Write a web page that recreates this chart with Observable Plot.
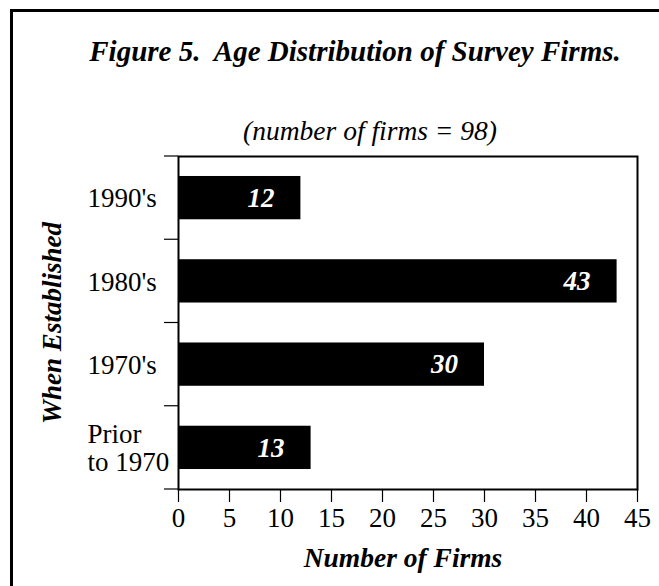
<!DOCTYPE html>
<html><head><meta charset="utf-8">
<script src="https://cdn.jsdelivr.net/npm/d3@7"></script>
<script src="https://cdn.jsdelivr.net/npm/@observablehq/plot@0.6"></script>
<style>
html,body{margin:0;padding:0;background:#fff;overflow:hidden;}
#wrap{position:relative;width:659px;height:586px;overflow:hidden;font-family:"Liberation Serif","Times New Roman",serif;color:#000;}
#border{position:absolute;left:10px;top:9px;width:700px;height:700px;border-left:3px solid #000;border-top:3px solid #000;z-index:3;pointer-events:none;}
.t{position:absolute;white-space:pre;transform:translateX(-50%);line-height:1;}
#title{left:355px;top:37px;font-size:29px;font-weight:bold;font-style:italic;}
#subtitle{left:370px;top:117px;font-size:27.5px;font-style:italic;}
#chart{position:absolute;left:0;top:100px;}
</style></head>
<body><div id="wrap"><div id="border"></div>
<div id="title" class="t">Figure 5.  Age Distribution of Survey Firms.</div>
<div id="subtitle" class="t">(number of firms = 98)</div>
<div id="chart"></div></div>
<script>
const periods = ["1990's", "1980's", "1970's", "Prior\nto 1970"];
const firms = [12, 43, 30, 13];
const xTicks = [0, 5, 10, 15, 20, 25, 30, 35, 40, 45];
const xTitle = "Number of Firms";
const yTitle = "When Established";

const data = periods.map((p, i) => ({period: p, count: firms[i]}));
const W = 659, H = 486, mL = 178, mR = 22, mT = 56, mB = 97;
const font = "Liberation Serif, Times New Roman, serif";

const chart = Plot.plot({
  width: W, height: H,
  marginLeft: mL, marginRight: mR, marginTop: mT, marginBottom: mB,
  style: {fontFamily: font, fontSize: "27px", color: "black", background: "transparent", overflow: "visible"},
  x: {domain: [0, 45], ticks: xTicks},
  y: {domain: periods, paddingInner: 0.48, paddingOuter: 0.24, round: false},
  marks: [
    Plot.barX(data, {x: "count", y: "period", fill: "black"}),
    Plot.text(data, {x: "count", y: "period", text: d => String(d.count), fill: "white",
      fontWeight: "bold", fontStyle: "italic", fontSize: 27, dx: -40, textAnchor: "middle"}),
    Plot.frame({stroke: "black", strokeWidth: 2}),
    Plot.axisX({ticks: xTicks, tickSize: 13, tickPadding: 5, strokeWidth: 1.2, label: null, fontSize: 27}),
    Plot.axisY({tickSize: 0, tickPadding: 91, textAnchor: "start", label: null, lineHeight: 1.06, fontSize: 27}),
    Plot.text([xTitle], {text: d => d, frameAnchor: "bottom", dy: 69, dx: -5,
      textAnchor: "middle", lineAnchor: "middle",
      fontWeight: "bold", fontStyle: "italic", fontSize: 27.5}),
    Plot.text([yTitle], {text: d => d, frameAnchor: "left", rotate: -90, dx: -126,
      textAnchor: "middle", lineAnchor: "middle",
      fontWeight: "bold", fontStyle: "italic", fontSize: 27})
  ]
});
document.getElementById("chart").appendChild(chart);

// band-boundary ticks on the y axis, from the band scale
const svg = chart.tagName.toLowerCase() === "svg" ? chart : chart.querySelector("svg");
const ys = chart.scale("y");
const n = ys.domain.length;
const step = ys.step != null ? ys.step : (ys.range[1] - ys.range[0]) / n;
const bw = ys.bandwidth != null ? ys.bandwidth : step * (1 - 0.48);
const edges = ys.domain.map(d => ys.apply(d) - (step - bw) / 2);
edges.push(edges[n - 1] + step);
d3.select(svg).append("g").selectAll("line").data(edges).join("line")
  .attr("x1", mL - 14).attr("x2", mL)
  .attr("y1", d => d).attr("y2", d => d)
  .attr("stroke", "black").attr("stroke-width", 1.2);
</script>
</body></html>
